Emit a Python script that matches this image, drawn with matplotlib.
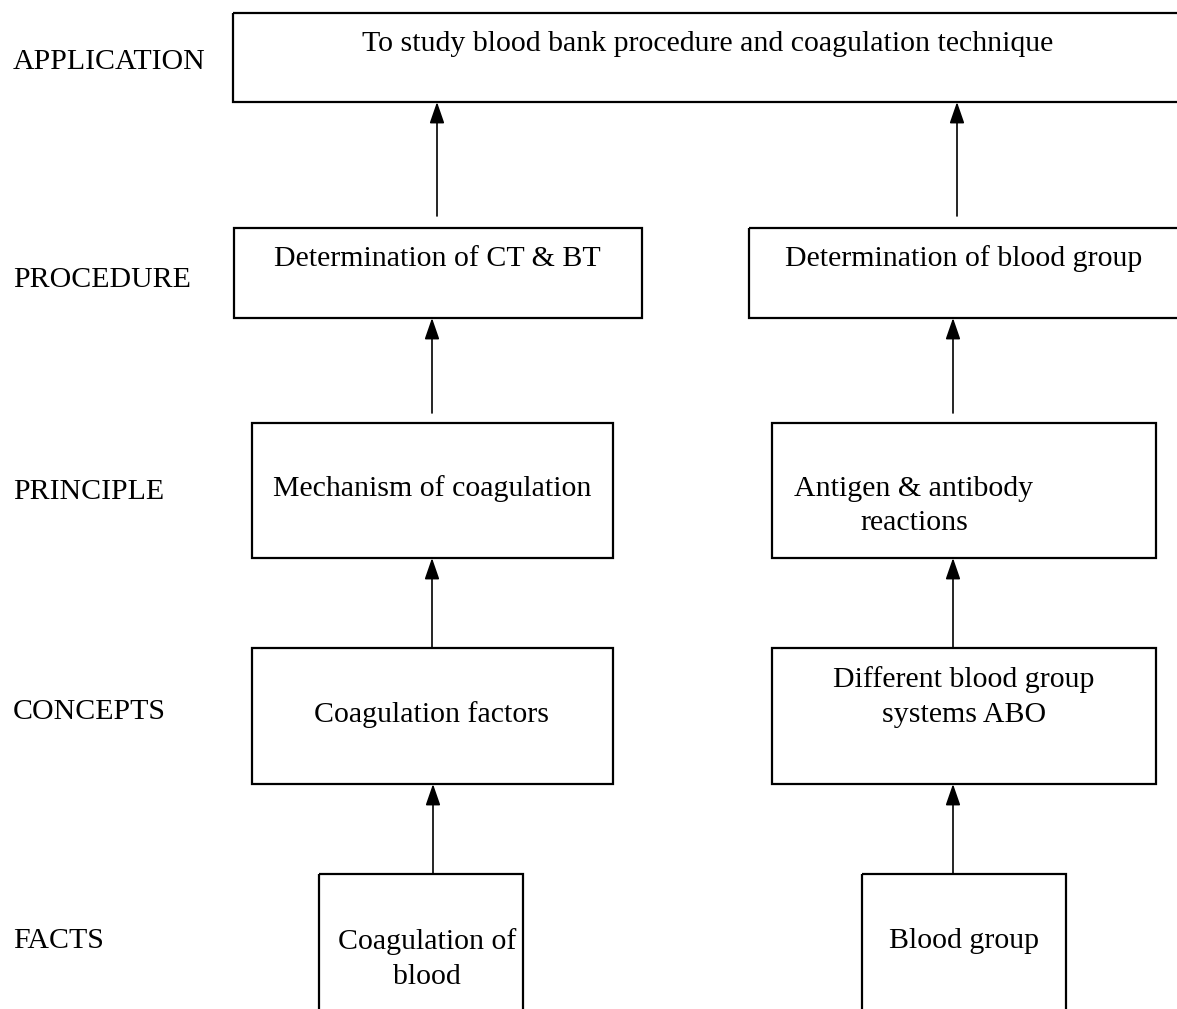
import matplotlib
matplotlib.use("Agg")
import matplotlib.pyplot as plt
from matplotlib.patches import Rectangle

# -------- Diagram content --------
levels = ["APPLICATION", "PROCEDURE", "PRINCIPLE", "CONCEPTS", "FACTS"]
app_text = "To study blood bank procedure and coagulation technique"
left_texts = ["Determination of CT & BT", "Mechanism of coagulation",
              "Coagulation factors", "Coagulation of\nblood"]
right_texts = ["Determination of blood group", "Antigen & antibody\nreactions",
               "Different blood group\nsystems ABO", "Blood group"]

# -------- Layout (pixels, y down) --------
W, H = 1177, 1009
level_y = [62, 280, 492, 712, 941]
app_box = (233, 13, 1200, 102)          # x0, y0, x1, y1
left_boxes = [(234, 228, 642, 318), (252, 423, 613, 558),
              (252, 648, 613, 784), (319, 874, 523, 1030)]
right_boxes = [(749, 228, 1200, 318), (772, 423, 1156, 558),
               (772, 648, 1156, 784), (862, 874, 1066, 1030)]
app_text_pos = (708, 44)
left_text_pos = [(437, 259), (432, 489), (432, 715), (427, 959)]
right_text_pos = [(964, 259), (914, 506), (964, 697), (964, 941)]
# arrows: x, y_start, y_end (tip)
arrows = [(437, 216, 102), (957, 216, 102),
          (432, 413, 318), (953, 413, 318),
          (432, 648, 558), (953, 648, 558),
          (433, 874, 784), (953, 874, 784)]

FONT = "Liberation Serif"
FS = 21.5

fig = plt.figure(figsize=(W / 100, H / 100), dpi=100)
ax = fig.add_axes([0, 0, 1, 1])
ax.set_xlim(0, W)
ax.set_ylim(H, 0)
ax.axis("off")


def box(b):
    x0, y0, x1, y1 = b
    ax.add_patch(Rectangle((x0, y0), x1 - x0, y1 - y0, fill=False,
                           edgecolor="black", linewidth=1.6))


for name, y in zip(levels, level_y):
    ax.text(13, y, name, fontsize=FS, family=FONT, ha="left", va="center")

box(app_box)
ax.text(*app_text_pos, app_text, fontsize=FS, family=FONT, ha="center", va="center")

for b, t, p in zip(left_boxes, left_texts, left_text_pos):
    box(b)
    ax.text(*p, t, fontsize=FS, family=FONT, ha="center", va="center",
            multialignment="center", linespacing=1.45)

for b, t, p in zip(right_boxes, right_texts, right_text_pos):
    box(b)
    ax.text(*p, t, fontsize=FS, family=FONT, ha="center", va="center",
            multialignment="center", linespacing=1.45)

for x, ys, ye in arrows:
    ax.annotate("", xy=(x, ye), xytext=(x, ys),
                arrowprops=dict(arrowstyle="-|>,head_length=1.3,head_width=0.45",
                                color="black", lw=1.2, shrinkA=0, shrinkB=0))

fig.savefig("out.png", dpi=100)
